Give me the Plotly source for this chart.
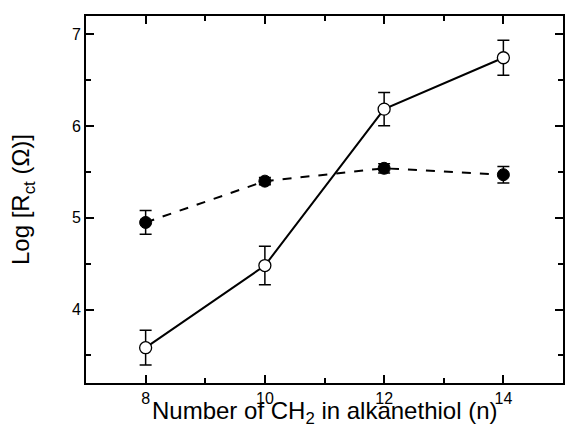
import plotly.graph_objects as go

n_ch2 = [8, 10, 12, 14]
open_vals = [3.585, 4.48, 6.185, 6.745]
open_err = [0.19, 0.21, 0.18, 0.19]
filled_vals = [4.95, 5.40, 5.54, 5.47]
filled_err = [0.13, 0.04, 0.05, 0.09]

FONT = "Liberation Sans, Arial"

fig = go.Figure()
fig.add_trace(go.Scatter(
    x=n_ch2, y=filled_vals, mode="lines+markers",
    line=dict(color="black", width=2, dash="dash"),
    marker=dict(symbol="circle", size=12, color="black", line=dict(color="black", width=1)),
    error_y=dict(type="data", array=filled_err, visible=True, color="black", thickness=1.5, width=6),
    showlegend=False))
fig.add_trace(go.Scatter(
    x=n_ch2, y=open_vals, mode="lines+markers",
    line=dict(color="black", width=2),
    marker=dict(symbol="circle", size=12, color="white", line=dict(color="black", width=1.3)),
    error_y=dict(type="data", array=open_err, visible=True, color="black", thickness=1.5, width=6),
    showlegend=False))

axis_common = dict(
    showline=True, linecolor="black", linewidth=2, mirror="allticks",
    ticks="inside", ticklen=8, tickwidth=1.5, tickcolor="black",
    showgrid=False, zeroline=False,
    tickfont=dict(family=FONT, size=16, color="black"),
)
fig.update_xaxes(
    range=[7, 15], tickvals=[8, 10, 12, 14],
    minor=dict(tickvals=[9, 11, 13], ticks="inside", ticklen=5, tickwidth=1.5, tickcolor="black"),
    **axis_common)
fig.update_yaxes(
    range=[3.2, 7.2], tickvals=[4, 5, 6, 7],
    minor=dict(tickvals=[3.5, 4.5, 5.5, 6.5], ticks="inside", ticklen=5, tickwidth=1.5, tickcolor="black"),
    title=dict(text="Log [R<sub>ct</sub> (Ω)]",
               font=dict(family=FONT, size=24, color="black"), standoff=35),
    **axis_common)
fig.add_annotation(
    text="Number of CH<sub>2</sub> in alkanethiol (n)",
    xref="paper", yref="paper", x=0.5, y=0, xanchor="center", yanchor="middle",
    yshift=-29, showarrow=False,
    font=dict(family=FONT, size=24, color="black"))
fig.update_layout(
    width=567, height=438,
    margin=dict(l=86, r=2, t=16, b=55),
    plot_bgcolor="white", paper_bgcolor="white",
    font=dict(family=FONT, size=16, color="black"),
)
fig.write_html("out.html")
